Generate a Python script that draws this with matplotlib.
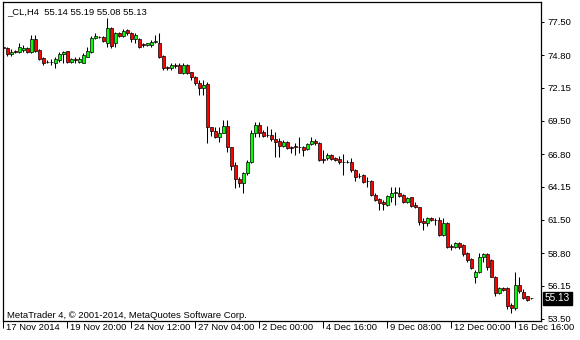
import matplotlib
matplotlib.use('Agg')
import numpy as np
import matplotlib.pyplot as plt
import matplotlib.transforms as mtransforms

# %%
# H4 candles of _CL (one entry per bar)
opens = [75.45, 75.40, 74.91, 75.16, 75.07, 75.21, 75.34, 75.07, 76.07, 75.21,
         74.59, 74.27, 74.24, 74.18, 74.40, 74.88, 75.13, 74.27, 74.45, 74.27,
         74.18, 74.67, 75.07, 76.15, 76.23, 76.29, 75.80, 76.96, 75.75, 76.56,
         76.34, 76.83, 76.56, 76.07, 76.07, 75.69, 75.61, 75.61, 75.88, 75.80,
         74.72, 73.86, 73.73, 73.99, 73.99, 73.35, 74.00, 73.40, 73.05, 72.55,
         72.10, 72.50, 68.97, 68.70, 68.21, 68.54, 69.07, 67.35, 65.92, 64.76,
         64.44, 65.25, 66.19, 68.48, 69.15, 68.62, 68.35, 68.35, 67.99, 67.86,
         67.46, 67.81, 67.40, 67.46, 67.40, 67.35, 67.19, 67.62, 67.89, 67.73,
         66.43, 66.46, 66.73, 66.46, 66.38, 66.19, 66.17, 66.14, 65.52, 65.03,
         65.11, 64.62, 64.65, 63.50, 63.15, 62.96, 62.69, 63.36, 63.69, 63.69,
         63.50, 62.96, 63.31, 62.69, 62.50, 61.39, 61.20, 61.61, 61.50, 61.50,
         60.27, 61.21, 59.37, 59.26, 59.64, 59.45, 58.78, 58.30, 56.84, 57.30,
         58.46, 58.73, 58.24, 56.90, 55.55, 55.95, 55.95, 54.60, 54.34, 56.22,
         55.68, 55.30, 55.14]
highs = [75.55, 75.48, 75.26, 75.21, 75.75, 75.59, 75.42, 76.42, 76.42, 75.26,
         74.67, 74.40, 74.45, 74.67, 75.07, 75.15, 75.15, 74.54, 74.67, 74.67,
         74.94, 75.42, 76.34, 76.56, 76.34, 76.34, 77.77, 77.10, 76.69, 76.69,
         76.88, 76.88, 76.69, 76.56, 76.15, 75.80, 75.80, 76.02, 76.42, 76.56,
         74.80, 73.91, 74.13, 74.13, 74.13, 74.13, 74.10, 73.45, 73.15, 72.80,
         72.75, 72.60, 69.02, 68.97, 68.97, 69.56, 69.56, 67.40, 66.19, 64.98,
         65.38, 66.33, 68.75, 69.43, 69.43, 68.75, 69.07, 68.81, 68.62, 68.08,
         67.94, 67.89, 67.46, 67.67, 68.16, 67.46, 67.73, 68.16, 68.00, 67.81,
         67.13, 66.86, 66.78, 66.59, 66.65, 66.81, 66.33, 66.46, 65.57, 65.25,
         65.19, 64.98, 64.71, 63.69, 63.23, 63.09, 63.50, 64.17, 64.11, 64.11,
         63.58, 63.31, 63.36, 62.96, 62.55, 61.61, 61.72, 61.74, 61.63, 61.70,
         61.60, 61.34, 59.53, 59.72, 59.72, 59.53, 58.91, 58.38, 57.44, 58.84,
         58.84, 58.84, 58.30, 56.95, 56.09, 56.09, 56.09, 54.74, 57.30, 56.90,
         55.87, 55.33, 55.19]
lows = [75.25, 74.72, 74.72, 74.99, 74.94, 75.07, 75.00, 74.99, 75.07, 74.40,
        73.99, 74.13, 73.99, 73.78, 74.27, 74.13, 74.18, 74.18, 74.18, 74.13,
        74.13, 74.62, 74.99, 76.07, 76.15, 75.88, 75.48, 75.40, 75.48, 76.23,
        76.23, 76.42, 75.88, 75.75, 75.40, 75.48, 75.53, 75.48, 75.80, 74.59,
        73.59, 73.59, 73.59, 73.73, 73.32, 73.30, 73.25, 72.80, 72.35, 71.60,
        71.60, 67.67, 68.30, 68.08, 67.81, 68.48, 67.00, 65.52, 64.04, 64.17,
        63.63, 65.11, 66.06, 68.16, 68.16, 68.21, 68.16, 67.89, 66.59, 66.59,
        67.35, 67.19, 66.86, 66.73, 66.92, 66.65, 67.13, 67.54, 67.54, 66.27,
        66.06, 66.33, 66.33, 66.27, 66.00, 65.11, 66.06, 65.38, 64.65, 64.84,
        64.49, 64.17, 63.42, 63.04, 62.28, 62.28, 62.61, 62.96, 62.69, 63.31,
        62.82, 62.88, 62.55, 62.42, 61.07, 60.67, 61.00, 61.39, 61.07, 60.20,
        60.20, 59.19, 59.05, 59.19, 59.15, 58.57, 58.11, 57.49, 56.36, 57.17,
        58.11, 57.44, 56.84, 55.34, 55.50, 55.76, 54.26, 53.93, 54.20, 55.60,
        55.07, 54.95, 55.08]
closes = [75.35, 74.86, 75.07, 75.07, 75.42, 75.40, 75.07, 76.07, 75.13, 74.45,
          74.13, 74.24, 74.27, 74.45, 74.88, 75.07, 74.27, 74.48, 74.37, 74.48,
          74.80, 75.15, 76.15, 76.34, 76.26, 75.96, 76.96, 75.53, 76.56, 76.34,
          76.77, 76.56, 76.07, 76.42, 75.48, 75.61, 75.75, 75.88, 75.90, 74.67,
          73.78, 73.73, 73.99, 73.88, 73.37, 74.00, 73.35, 73.00, 72.55, 72.10,
          72.35, 68.97, 68.70, 68.21, 68.54, 69.07, 67.35, 65.84, 64.76, 64.44,
          65.25, 66.19, 68.48, 69.15, 68.54, 68.27, 68.32, 67.99, 67.81, 67.46,
          67.81, 67.27, 67.27, 67.35, 67.38, 67.13, 67.62, 67.89, 67.67, 66.33,
          66.33, 66.73, 66.41, 66.35, 66.19, 66.17, 66.15, 65.52, 64.98, 65.06,
          64.57, 64.60, 63.50, 63.09, 62.82, 62.74, 63.42, 63.69, 63.71, 63.42,
          62.90, 63.23, 62.61, 62.55, 61.34, 61.20, 61.61, 61.50, 61.47, 60.27,
          61.26, 59.32, 59.26, 59.64, 59.26, 58.70, 58.24, 57.57, 57.30, 58.46,
          58.73, 57.65, 56.90, 55.55, 55.95, 55.82, 54.53, 54.34, 56.22, 55.74,
          55.15, 55.04, 55.13]

price_ticks = [77.50, 74.80, 72.15, 69.50, 66.80, 64.15, 61.50, 58.80, 56.15, 53.50]
date_ticks = [0, 16, 32, 48, 64, 80, 96, 112, 128]
date_labels = ['17 Nov 2014', '19 Nov 20:00', '24 Nov 12:00', '27 Nov 04:00',
               '2 Dec 00:00', '4 Dec 16:00', '9 Dec 08:00', '12 Dec 00:00',
               '16 Dec 16:00']
last_price = 55.13

# %%
plt.rcParams['font.family'] = ['Liberation Sans', 'DejaVu Sans']
fs = 6.8

W, H = 580, 340
fig = plt.figure(figsize=(W / 100, H / 100), dpi=100)
ax = fig.add_axes([2.5 / W, 1 - 321 / H, (541 - 2.5) / W, (321 - 2) / H])

o = np.array(opens)
h = np.array(highs)
l = np.array(lows)
c = np.array(closes)
x = np.arange(len(o))

# wicks then bodies (lime up, red down, black outline)
ax.vlines(x, l, h, color='black', linewidth=0.75, zorder=1)
up = c >= o
body_col = np.where(up, '#00ff00', '#ff0000')
ax.bar(x, np.abs(c - o), bottom=np.minimum(o, c), width=0.75,
       color=body_col, edgecolor='black', linewidth=0.5, zorder=2)

ax.set_xlim(-0.125, 134.5)
ax.set_ylim(53.31, 79.09)

for s in ax.spines.values():
    s.set_linewidth(0.9)
    s.set_color('black')

ax.yaxis.tick_right()
ax.set_yticks(price_ticks)
ax.set_yticklabels(['%.2f' % p for p in price_ticks])
ax.tick_params(axis='y', direction='out', length=2.5, width=0.7, pad=2.5,
               labelsize=fs, colors='black')

ax.set_xticks(date_ticks)
ax.set_xticklabels(date_labels)
ax.tick_params(axis='x', direction='out', length=5, width=0.7, pad=-3.2,
               labelsize=fs, colors='black')
shift = mtransforms.ScaledTranslation(3 / 100, 0, fig.dpi_scale_trans)
for lab in ax.get_xticklabels():
    lab.set_horizontalalignment('left')
    lab.set_transform(lab.get_transform() + shift)

# current price box on the right axis
trans = mtransforms.blended_transform_factory(ax.transAxes, ax.transData)
ax.text(1.0, last_price, '%.2f' % last_price,
        transform=trans + mtransforms.ScaledTranslation(4 / 100, 0, fig.dpi_scale_trans),
        ha='left', va='center', color='white', fontsize=fs + 0.4, clip_on=False,
        bbox=dict(facecolor='black', edgecolor='black', pad=1.2))

fig.text(7 / W, 1 - 14 / H, '_CL,H4  55.14 55.19 55.08 55.13',
         fontsize=fs, color='black', va='baseline', ha='left')
fig.text(7 / W, 1 - 318 / H, 'MetaTrader 4, \u00a9 2001-2014, MetaQuotes Software Corp.',
         fontsize=fs, color='black', va='baseline', ha='left')

fig.savefig('out.png', dpi=100, facecolor='white')
